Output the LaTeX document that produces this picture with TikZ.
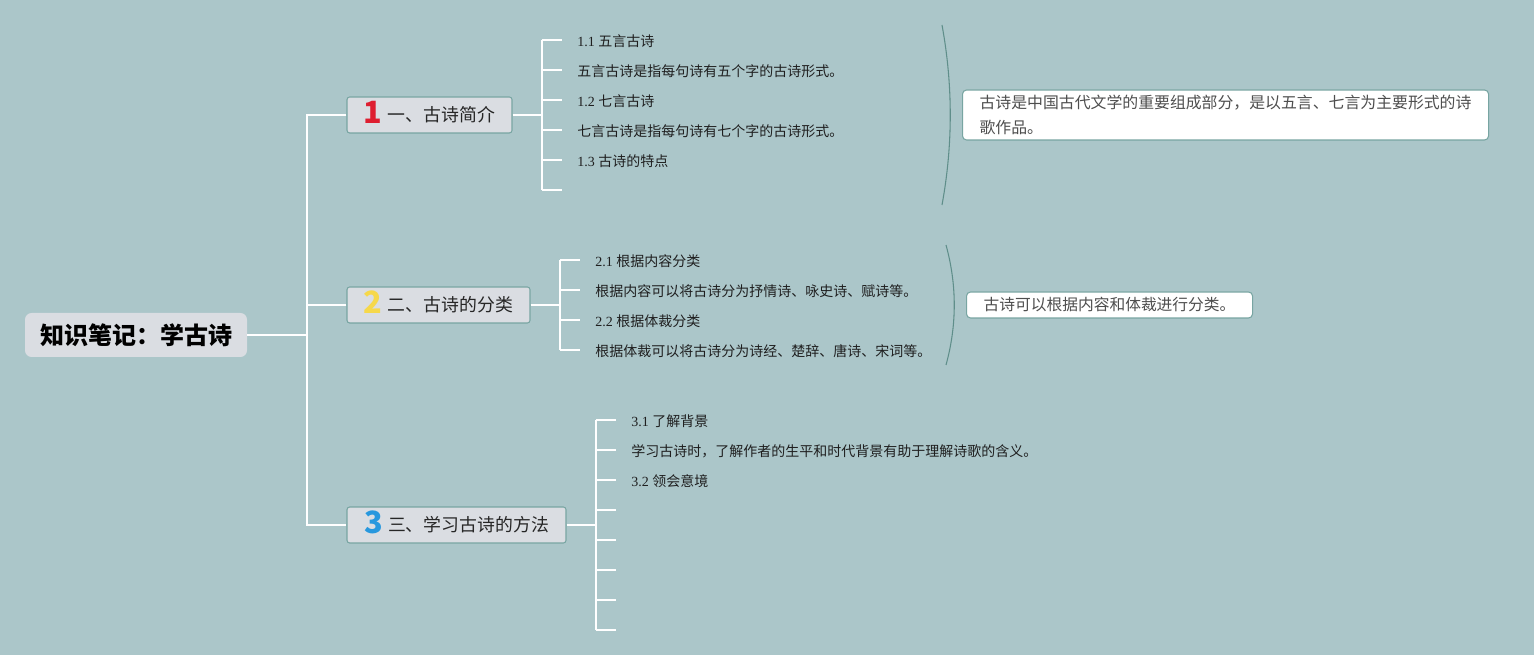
\documentclass[tikz,border=0pt]{standalone}
\usepackage{fontspec}
\setmainfont{Liberation Serif}
\newfontfamily\cjk{Noto Sans CJK SC}
\usetikzlibrary{positioning}
\definecolor{bgcol}{RGB}{171,198,201}
\definecolor{boxfill}{RGB}{218,221,226}
\definecolor{boxline}{RGB}{120,165,162}
\definecolor{arccol}{RGB}{95,142,138}
\definecolor{numred}{RGB}{222,30,48}
\definecolor{numyellow}{RGB}{246,216,74}
\definecolor{numblue}{RGB}{40,152,222}
\definecolor{notetext}{RGB}{78,78,78}
\newcommand\topicnum[2]{\smash{\cjk\bfseries\fontsize{23}{23}\selectfont\color{#1}\raisebox{-1pt}{#2}}\hspace{4pt}}

\begin{document}
\begin{tikzpicture}[x=0.75pt, y=-0.75pt,
  wire/.style={draw=white, line width=1.4pt},
  rootbox/.style={fill=boxfill, rounded corners=5pt, minimum width=166.5pt,
    minimum height=33pt, inner sep=0pt, font=\cjk\bfseries\fontsize{18}{20}\selectfont},
  topic/.style={fill=boxfill, draw=boxline, line width=0.8pt, rounded corners=2pt,
    minimum height=27pt, inner sep=0pt, text=black!85,
    font=\cjk\fontsize{13.4}{15}\selectfont},
  leaf/.style={anchor=west, inner sep=0pt, text=black!88, font=\fontsize{10.5}{12}\selectfont},
  note/.style={anchor=west, fill=white, draw=boxline, line width=0.8pt, rounded corners=3pt,
    inner xsep=12pt, inner ysep=0pt, align=left, text=notetext},
  brace/.style={draw=arccol, line width=0.8pt}]

  % background
  \fill[bgcol] (0,0) rectangle (1534,655);
  \useasboundingbox (0,0) rectangle (1534,655);

  % central topic
  \node[rootbox] (root) at (136,335) {知识笔记：学古诗};

  % main topics
  \node[topic, minimum width=123.75pt] (t1) at (429.5,115)
    {\topicnum{numred}{1}一、古诗简介};
  \node[topic, minimum width=137.25pt] (t2) at (438.5,305)
    {\topicnum{numyellow}{2}二、古诗的分类};
  \node[topic, minimum width=164.25pt] (t3) at (456.5,525)
    {\topicnum{numblue}{3}三、学习古诗的方法};

  % trunk
  \coordinate (trunk) at (307,335);
  \draw[wire] (root.east) -- (trunk);
  \draw[wire] (t1.west) -| (trunk) |- (t3.west);
  \draw[wire] (t2.west) -- (t2.west -| trunk);

  % branch 1
  \coordinate (b1) at (542,115);
  \draw[wire] (t1.east) -- (b1);
  \draw[wire] (542,40) -- (542,190);
  \foreach \y in {40,70,100,130,160,190}
    \draw[wire] (542,\y) -- ++(20,0);
  \node[leaf] (l11) at (577,41) {1.1 {\cjk 五言古诗}};
  \node[leaf] (l12) at (577,71) {\cjk 五言古诗是指每句诗有五个字的古诗形式。};
  \node[leaf] (l13) at (577,101) {1.2 {\cjk 七言古诗}};
  \node[leaf] (l14) at (577,131) {\cjk 七言古诗是指每句诗有七个字的古诗形式。};
  \node[leaf] (l15) at (577,161) {1.3 {\cjk 古诗的特点}};

  % branch 2
  \coordinate (b2) at (560,305);
  \draw[wire] (t2.east) -- (b2);
  \draw[wire] (560,260) -- (560,350);
  \foreach \y in {260,290,320,350}
    \draw[wire] (560,\y) -- ++(20,0);
  \node[leaf] (l21) at (595,261) {2.1 {\cjk 根据内容分类}};
  \node[leaf] (l22) at (595,291) {\cjk 根据内容可以将古诗分为抒情诗、咏史诗、赋诗等。};
  \node[leaf] (l23) at (595,321) {2.2 {\cjk 根据体裁分类}};
  \node[leaf] (l24) at (595,351) {\cjk 根据体裁可以将古诗分为诗经、楚辞、唐诗、宋词等。};

  % branch 3
  \coordinate (b3) at (596,525);
  \draw[wire] (t3.east) -- (b3);
  \draw[wire] (596,420) -- (596,630);
  \foreach \y in {420,450,...,630}
    \draw[wire] (596,\y) -- ++(20,0);
  \node[leaf] (l31) at (631,421) {3.1 {\cjk 了解背景}};
  \node[leaf] (l32) at (631,451) {\cjk 学习古诗时，了解作者的生平和时代背景有助于理解诗歌的含义。};
  \node[leaf] (l33) at (631,481) {3.2 {\cjk 领会意境}};

  % summaries
  \draw[brace] (942,25) .. controls (953,85) and (953,145) .. (942,205);
  \node[note, minimum width=394.5pt, minimum height=37.5pt,
    font=\cjk\fontsize{11.9}{18.5}\selectfont] (s1) at (962,115)
    {古诗是中国古代文学的重要组成部分，是以五言、七言为主要形式的诗\\歌作品。};
  \draw[brace] (946,245) .. controls (957,285) and (957,325) .. (946,365);
  \node[note, minimum width=214.5pt, minimum height=19.5pt,
    font=\cjk\fontsize{11.8}{14}\selectfont] (s2) at (966,305)
    {古诗可以根据内容和体裁进行分类。};
\end{tikzpicture}
\end{document}
